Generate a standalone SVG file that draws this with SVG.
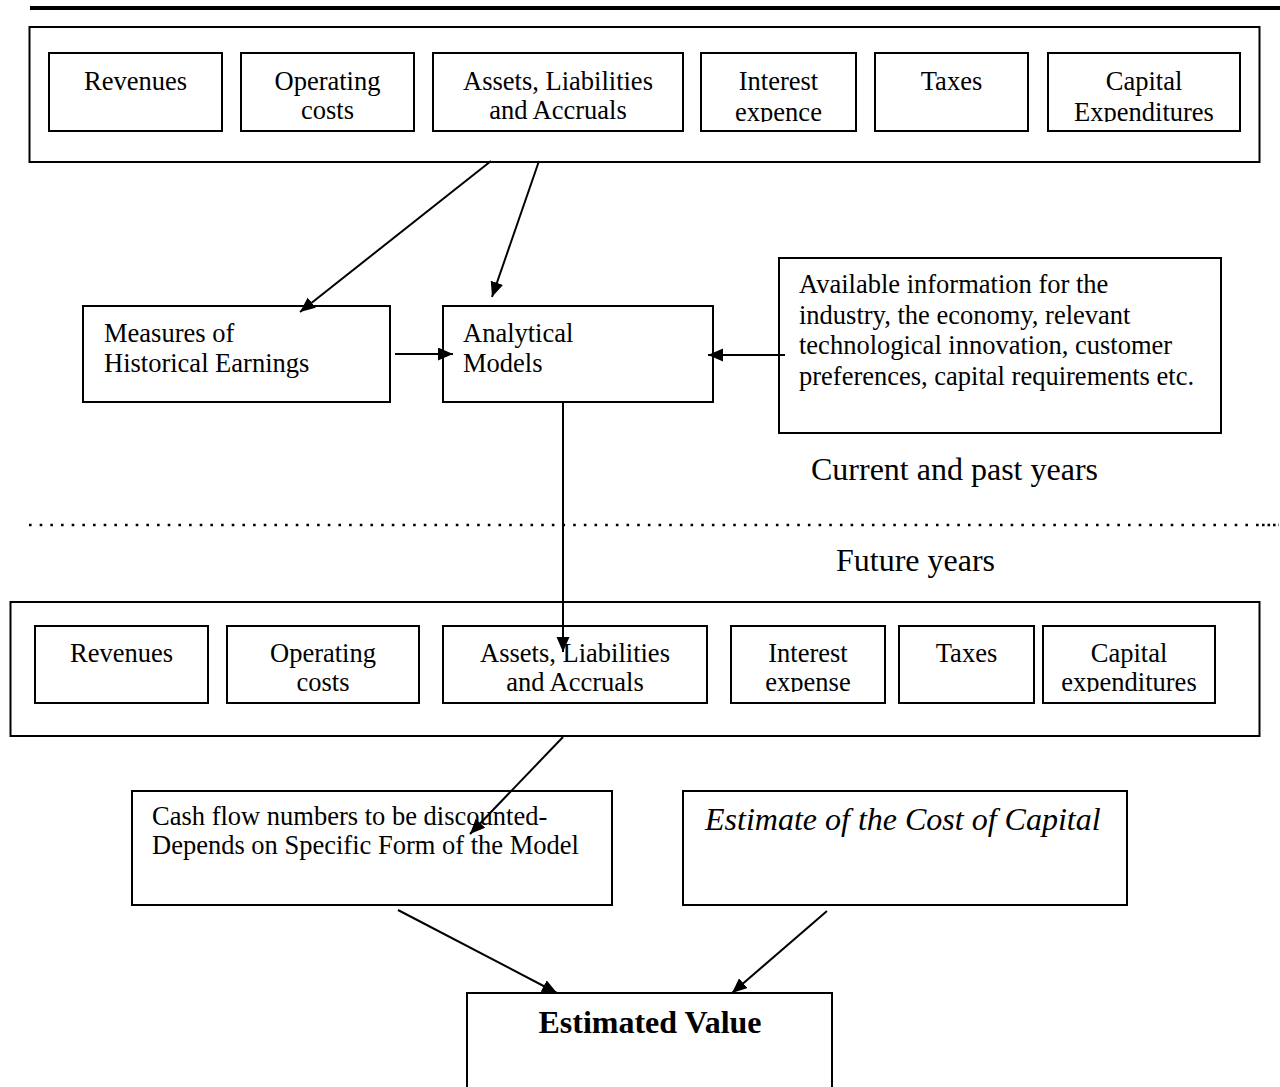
<svg xmlns="http://www.w3.org/2000/svg" width="1280" height="1087" viewBox="0 0 1280 1087">
<style>
  .box { fill: #fff; stroke: #000; stroke-width: 2; }
  .frame { fill: none; stroke: #000; stroke-width: 2; }
  .t { font-family: "Liberation Serif", "Times New Roman", serif; font-size: 26.5px; fill: #000; }
  .c { text-anchor: middle; }
  .big { font-family: "Liberation Serif", "Times New Roman", serif; font-size: 32px; fill: #000; }
  .conn { stroke: #000; stroke-width: 2; fill: none; }
</style>
<defs>
  <marker id="ah" markerUnits="userSpaceOnUse" markerWidth="16" markerHeight="14" refX="15" refY="6.5" orient="auto">
    <path d="M0,0 L15,6.5 L0,13 z" fill="#000"/>
  </marker>
  <clipPath id="clipTopInt"><rect x="701" y="53" width="155" height="69"/></clipPath>
  <clipPath id="clipTopCap"><rect x="1048" y="53" width="192" height="69"/></clipPath>
  <clipPath id="clipBotInt"><rect x="731" y="626" width="154" height="66"/></clipPath>
  <clipPath id="clipBotCap"><rect x="1043" y="626" width="172" height="66"/></clipPath>
</defs>

<line x1="30" y1="8" x2="1280" y2="8" stroke="#000" stroke-width="4"/>

<g id="top-frame"><rect class="frame" x="29.5" y="27" width="1230" height="135"/></g>
<g id="top-revenues"><rect class="box" x="49" y="53" width="173" height="78"/><text class="t c" x="135.5" y="90">Revenues</text></g>
<g id="top-operating"><rect class="box" x="241" y="53" width="173" height="78"/><text class="t c" x="327.5" y="90">Operating</text><text class="t c" x="327.5" y="119">costs</text></g>
<g id="top-assets"><rect class="box" x="433" y="53" width="250" height="78"/><text class="t c" x="558" y="90">Assets, Liabilities</text><text class="t c" x="558" y="119">and Accruals</text></g>
<g id="top-interest"><rect class="box" x="701" y="53" width="155" height="78"/><g clip-path="url(#clipTopInt)"><text class="t c" x="778.5" y="90">Interest</text><text class="t c" x="778.5" y="120.5">expence</text></g></g>
<g id="top-taxes"><rect class="box" x="875" y="53" width="153" height="78"/><text class="t c" x="951.5" y="90">Taxes</text></g>
<g id="top-capex"><rect class="box" x="1048" y="53" width="192" height="78"/><g clip-path="url(#clipTopCap)"><text class="t c" x="1144" y="90">Capital</text><text class="t c" x="1144" y="120.5">Expenditures</text></g></g>

<g id="measures"><rect class="box" x="83" y="306" width="307" height="96"/><text class="t" x="104" y="342">Measures of</text><text class="t" x="104" y="372">Historical Earnings</text></g>
<g id="analytical"><rect class="box" x="443" y="306" width="270" height="96"/><text class="t" x="463" y="342">Analytical</text><text class="t" x="463" y="372">Models</text></g>
<g id="available"><rect class="box" x="779" y="258" width="442" height="175"/>
  <text class="t" x="799" y="293">Available information for the</text>
  <text class="t" x="799" y="324">industry, the economy, relevant</text>
  <text class="t" x="799" y="354">technological innovation, customer</text>
  <text class="t" x="799" y="385">preferences, capital requirements etc.</text>
</g>

<g id="label-current"><text class="big" x="811" y="480">Current and past years</text></g>
<g id="divider">
  <line x1="29" y1="525" x2="1262" y2="525" stroke="#000" stroke-width="2.6" stroke-dasharray="2.6 8.07"/>
  <line x1="1262" y1="525" x2="1279" y2="525" stroke="#000" stroke-width="2.6" stroke-dasharray="2.6 2.9"/>
</g>
<g id="label-future"><text class="big" x="836" y="571">Future years</text></g>

<g id="bot-frame"><rect class="frame" x="10.5" y="602" width="1249" height="134"/></g>
<g id="bot-revenues"><rect class="box" x="35" y="626" width="173" height="77"/><text class="t c" x="121.5" y="662">Revenues</text></g>
<g id="bot-operating"><rect class="box" x="227" y="626" width="192" height="77"/><text class="t c" x="323" y="662">Operating</text><text class="t c" x="323" y="691">costs</text></g>
<g id="bot-assets"><rect class="box" x="443" y="626" width="264" height="77"/><text class="t c" x="575" y="662">Assets, Liabilities</text><text class="t c" x="575" y="691">and Accruals</text></g>
<g id="bot-interest"><rect class="box" x="731" y="626" width="154" height="77"/><g clip-path="url(#clipBotInt)"><text class="t c" x="808" y="662">Interest</text><text class="t c" x="808" y="691">expense</text></g></g>
<g id="bot-taxes"><rect class="box" x="899" y="626" width="135" height="77"/><text class="t c" x="966.5" y="662">Taxes</text></g>
<g id="bot-capex"><rect class="box" x="1043" y="626" width="172" height="77"/><g clip-path="url(#clipBotCap)"><text class="t c" x="1129" y="662">Capital</text><text class="t c" x="1129" y="691">expenditures</text></g></g>

<g id="cashflow"><rect class="box" x="132" y="791" width="480" height="114"/>
  <text class="t" x="152" y="825">Cash flow numbers to be discounted-</text>
  <text class="t" x="152" y="854">Depends on Specific Form of the Model</text>
</g>
<g id="costcap"><rect class="box" x="683" y="791" width="444" height="114"/>
  <text class="big" x="705" y="830" font-style="italic">Estimate of the Cost of Capital</text>
</g>
<g id="estimated"><rect class="box" x="467" y="993" width="365" height="110"/>
  <text class="big c" x="650" y="1033" font-weight="bold">Estimated Value</text>
</g>

<g id="connectors">
  <line class="conn" x1="491" y1="161" x2="300" y2="312" marker-end="url(#ah)"/>
  <line class="conn" x1="539" y1="161" x2="492" y2="297" marker-end="url(#ah)"/>
  <line class="conn" x1="395" y1="354" x2="453" y2="354" marker-end="url(#ah)"/>
  <line class="conn" x1="785" y1="355" x2="708" y2="355" marker-end="url(#ah)"/>
  <line class="conn" x1="563" y1="402" x2="563" y2="652" marker-end="url(#ah)"/>
  <line class="conn" x1="563" y1="737" x2="470" y2="834" marker-end="url(#ah)"/>
  <line class="conn" x1="398" y1="910" x2="557" y2="993" marker-end="url(#ah)"/>
  <line class="conn" x1="827" y1="911" x2="732" y2="993" marker-end="url(#ah)"/>
</g>
</svg>
